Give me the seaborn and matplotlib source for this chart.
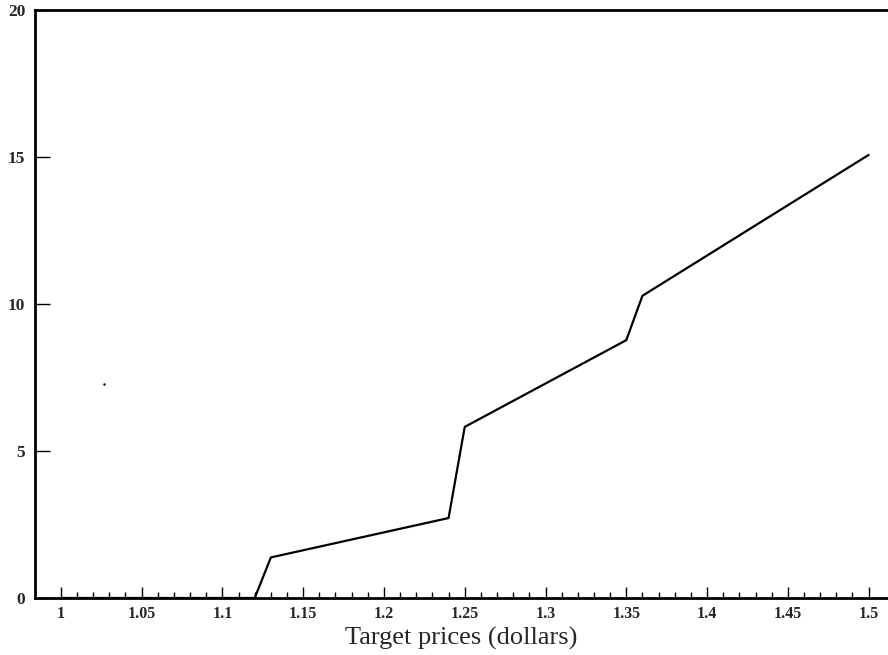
import matplotlib
matplotlib.use("Agg")
import matplotlib.pyplot as plt
import seaborn as sns
import pandas as pd
import numpy as np
from matplotlib.ticker import FixedLocator

# Data
prices = [1.00, 1.12, 1.13, 1.24, 1.25, 1.35, 1.36, 1.50]
values = [0.0, 0.0, 1.38, 2.72, 5.82, 8.77, 10.28, 15.07]
stray_x = [1.027]
stray_y = [7.28]
x_ticks = [1, 1.05, 1.1, 1.15, 1.2, 1.25, 1.3, 1.35, 1.4, 1.45, 1.5]
x_tick_labels = ["1", "1.05", "1.1", "1.15", "1.2", "1.25", "1.3", "1.35", "1.4", "1.45", "1.5"]
x_minor = [round(1 + 0.01 * i, 2) for i in range(1, 50) if i % 5 != 0]
y_ticks = [0, 5, 10, 15, 20]

sns.set_style("white")
plt.rcParams['font.family'] = ['Liberation Serif', 'DejaVu Serif']

fig = plt.figure(figsize=(8.88, 6.55), dpi=100)
ax = fig.add_axes([35/888, 57/655, 853/888, 588/655])

df = pd.DataFrame({"price": prices, "value": values})
sns.lineplot(data=df, x="price", y="value", ax=ax, color="black", linewidth=1.6,
             sort=False, estimator=None)
ax.plot(stray_x, stray_y, marker='.', color='black', markersize=1.5, linestyle='none')

ax.set_xlim(0.984, 1.512)
ax.set_ylim(0, 20)
ax.set_xticks(x_ticks)
ax.set_xticklabels(x_tick_labels, fontsize=11.5, fontweight='bold')
ax.xaxis.set_minor_locator(FixedLocator(x_minor))
ax.set_yticks(y_ticks)
ax.set_yticklabels([str(v) for v in y_ticks], fontsize=12.5, fontweight='bold')

ax.tick_params(axis='x', which='major', direction='in', length=8, width=1.0, color='black', pad=6)
ax.tick_params(axis='x', which='minor', direction='in', length=4, width=1.0, color='black')
ax.tick_params(axis='y', which='major', direction='in', length=11, width=1.0, color='black', pad=7)
ax.xaxis.set_ticks_position('bottom')
ax.yaxis.set_ticks_position('left')

for s in ['left', 'bottom', 'top']:
    ax.spines[s].set_color('black')
    ax.spines[s].set_linewidth(2.0)
ax.spines['right'].set_visible(False)

ax.set_xlabel("Target prices (dollars)", fontsize=19, labelpad=3)
ax.set_ylabel("")

fig.savefig("out.png", dpi=100)
